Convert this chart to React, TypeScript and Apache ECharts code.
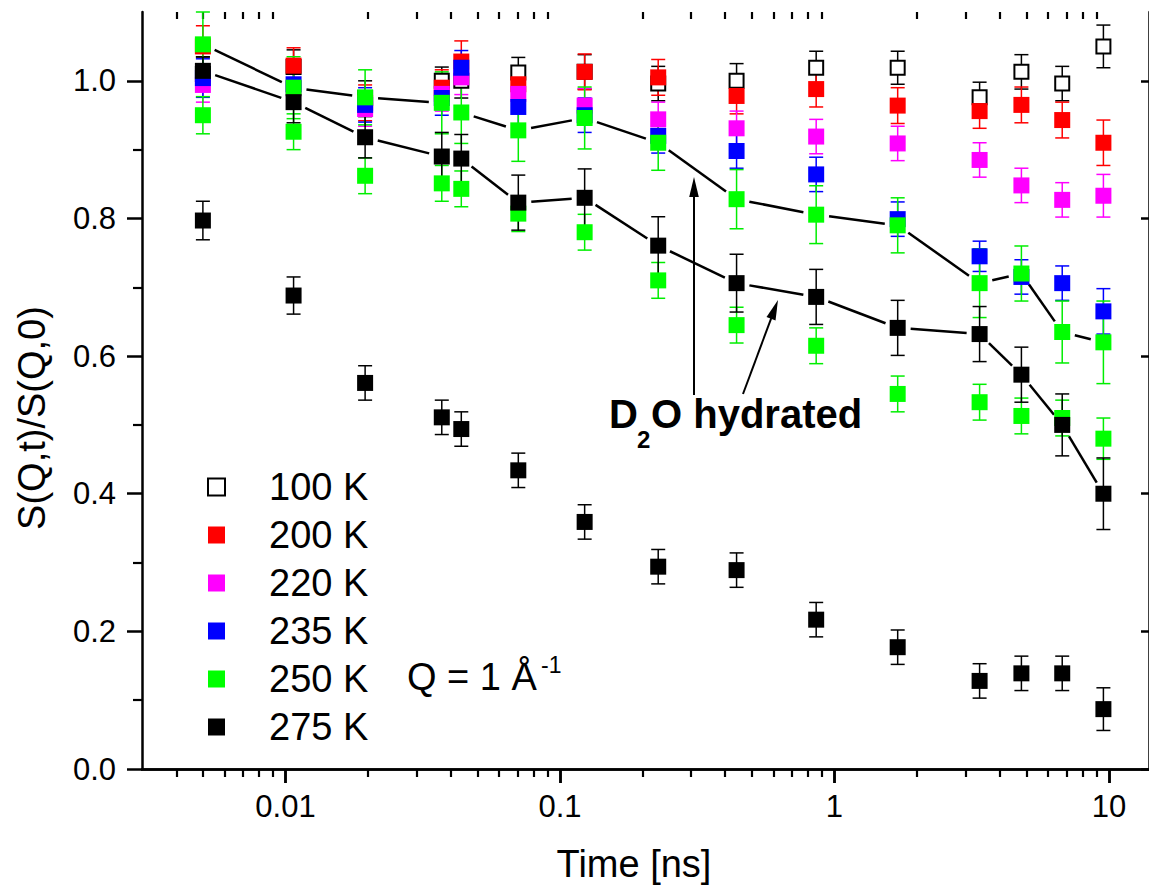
import React, { useEffect, useRef } from 'react';
import * as echarts from 'echarts';

const FONT = '"Liberation Sans", Arial, Helvetica, sans-serif';

// Time values (ns)
const TIMES = [0.005, 0.0107, 0.0195, 0.0371, 0.0437, 0.0705, 0.123, 0.228, 0.44, 0.858, 1.7, 3.38, 4.8, 6.76, 9.55];

// S(Q,t)/S(Q,0) values and errors
const S100 = [1.01, 1.02, 0.975, 1.0, 1.0, 1.012, 1.013, 0.996, 1.0, 1.019, 1.019, 0.976, 1.013, 0.996, 1.05];
const E100 = [0.025, 0.025, 0.025, 0.02, 0.025, 0.022, 0.025, 0.025, 0.025, 0.024, 0.024, 0.022, 0.025, 0.025, 0.031];

const S200 = [1.05, 1.022, 0.968, 0.99, 1.028, 0.995, 1.013, 1.005, 0.978, 0.988, 0.964, 0.956, 0.965, 0.943, 0.91];
const E200 = [0.03, 0.026, 0.026, 0.026, 0.03, 0.026, 0.026, 0.026, 0.026, 0.026, 0.026, 0.025, 0.026, 0.026, 0.033];

const S220 = [0.994, 0.989, 0.959, 0.981, 1.005, 0.981, 0.964, 0.944, 0.931, 0.919, 0.909, 0.885, 0.848, 0.827, 0.833];
const E220 = [0.025, 0.025, 0.025, 0.025, 0.025, 0.025, 0.025, 0.025, 0.025, 0.025, 0.025, 0.025, 0.025, 0.025, 0.031];

const S235 = [1.004, 0.995, 0.965, 0.975, 1.019, 0.962, 0.95, 0.92, 0.898, 0.864, 0.799, 0.745, 0.715, 0.706, 0.665];
const E235 = [0.028, 0.028, 0.025, 0.025, 0.025, 0.025, 0.025, 0.025, 0.025, 0.025, 0.025, 0.022, 0.025, 0.025, 0.033];

// D2O hydrated (connected by lines)
const S250H = [1.053, 0.99, 0.976, 0.968, 0.954, 0.928, 0.946, 0.91, 0.828, 0.8055, 0.79, 0.706, 0.72, 0.635, 0.62];
const E250H = [0.047, 0.045, 0.04, 0.045, 0.045, 0.045, 0.045, 0.04, 0.043, 0.042, 0.04, 0.05, 0.04, 0.045, 0.06];

const S275H = [1.0145, 0.969, 0.918, 0.89, 0.887, 0.823, 0.83, 0.7605, 0.706, 0.686, 0.641, 0.632, 0.573, 0.5, 0.4];
const E275H = [0.02, 0.03, 0.03, 0.035, 0.035, 0.04, 0.042, 0.042, 0.042, 0.04, 0.04, 0.04, 0.04, 0.045, 0.052];

// second set (not connected)
const S250 = [0.95, 0.926, 0.862, 0.851, 0.843, 0.807, 0.78, 0.71, 0.645, 0.615, 0.545, 0.533, 0.513, 0.51, 0.48];
const E250 = [0.027, 0.026, 0.026, 0.026, 0.026, 0.026, 0.026, 0.026, 0.026, 0.026, 0.026, 0.026, 0.026, 0.026, 0.03];

const S275 = [0.797, 0.688, 0.561, 0.511, 0.494, 0.434, 0.359, 0.294, 0.289, 0.217, 0.177, 0.128, 0.139, 0.139, 0.087];
const E275 = [0.028, 0.027, 0.025, 0.025, 0.025, 0.025, 0.025, 0.025, 0.025, 0.025, 0.025, 0.025, 0.025, 0.025, 0.031];

const LEGEND_NAMES = ['100 K', '200 K', '220 K', '235 K', '250 K', '275 K'];

// Axis ticks
const X_MIN = 0.003;
const X_MAX = 14;
const X_MAJOR = [0.01, 0.1, 1, 10];
const X_MINOR = [
  0.004, 0.005, 0.006, 0.007, 0.008, 0.009,
  0.02, 0.03, 0.04, 0.05, 0.06, 0.07, 0.08, 0.09,
  0.2, 0.3, 0.4, 0.5, 0.6, 0.7, 0.8, 0.9,
  2, 3, 4, 5, 6, 7, 8, 9,
];
const Y_MAJOR = [0, 0.2, 0.4, 0.6, 0.8, 1.0];
const Y_MINOR = [0.1, 0.3, 0.5, 0.7, 0.9];

function errSeries(name: string, ys: number[], es: number[], color: string) {
  return {
    type: 'custom',
    name: name + ' err',
    xAxisIndex: 0,
    yAxisIndex: 0,
    silent: true,
    data: TIMES.map((t, i) => [t, ys[i] - es[i], ys[i] + es[i]]),
    encode: { x: 0, y: [1, 2] },
    renderItem: (params: any, api: any) => {
      const x = api.value(0);
      const lo = api.coord([x, api.value(1)]);
      const hi = api.coord([x, api.value(2)]);
      const w = 7;
      const st = { stroke: color, lineWidth: 1.5 };
      return {
        type: 'group',
        children: [
          { type: 'line', shape: { x1: lo[0], y1: lo[1], x2: hi[0], y2: hi[1] }, style: st },
          { type: 'line', shape: { x1: lo[0] - w, y1: lo[1], x2: lo[0] + w, y2: lo[1] }, style: st },
          { type: 'line', shape: { x1: hi[0] - w, y1: hi[1], x2: hi[0] + w, y2: hi[1] }, style: st },
        ],
      };
    },
  };
}

function pointSeries(name: string, ys: number[], color: string, hollow = false) {
  return {
    type: 'scatter',
    name,
    xAxisIndex: 0,
    yAxisIndex: 0,
    symbol: 'rect',
    symbolSize: hollow ? 14 : 16,
    silent: true,
    itemStyle: hollow
      ? { color: '#ffffff', borderColor: '#000000', borderWidth: 2, opacity: 1 }
      : { color, opacity: 1 },
    data: TIMES.map((t, i) => [t, ys[i]]),
  };
}

function segSeries(name: string, ys: number[]) {
  const data: number[][] = [];
  for (let i = 0; i < TIMES.length - 1; i++) {
    data.push([TIMES[i], ys[i], TIMES[i + 1], ys[i + 1]]);
  }
  return {
    type: 'custom',
    name,
    xAxisIndex: 0,
    yAxisIndex: 0,
    silent: true,
    data,
    encode: { x: [0, 2], y: [1, 3] },
    renderItem: (params: any, api: any) => {
      const a = api.coord([api.value(0), api.value(1)]);
      const b = api.coord([api.value(2), api.value(3)]);
      const dx = b[0] - a[0];
      const dy = b[1] - a[1];
      const L = Math.hypot(dx, dy);
      const g = 13;
      if (L <= 2 * g) return null;
      const ux = dx / L;
      const uy = dy / L;
      return {
        type: 'line',
        shape: { x1: a[0] + ux * g, y1: a[1] + uy * g, x2: b[0] - ux * g, y2: b[1] - uy * g },
        style: { stroke: '#000', lineWidth: 2.5 },
      };
    },
  };
}

function arrow(x1: number, y1: number, x2: number, y2: number) {
  const dx = x2 - x1;
  const dy = y2 - y1;
  const L = Math.hypot(dx, dy);
  const ux = dx / L;
  const uy = dy / L;
  const hl = 20;
  const hw = 4.8;
  const bx = x2 - ux * hl;
  const by = y2 - uy * hl;
  const px = -uy;
  const py = ux;
  return [
    {
      type: 'line',
      shape: { x1, y1, x2: bx + ux * 2, y2: by + uy * 2 },
      style: { stroke: '#000', lineWidth: 2 },
    },
    {
      type: 'polygon',
      shape: { points: [[x2, y2], [bx + px * hw, by + py * hw], [bx - px * hw, by - py * hw]] },
      style: { fill: '#000' },
    },
  ];
}

const axisLineStyle = { color: '#000', width: 2.5 };

export default function App() {
  const ref = useRef<HTMLDivElement>(null);

  useEffect(() => {
    if (!ref.current) return;
    const chart = echarts.init(ref.current, undefined, { renderer: 'svg' });

    const xBase = {
      type: 'log',
      logBase: 10,
      min: X_MIN,
      max: X_MAX,
      gridIndex: 0,
      splitLine: { show: false },
      minorTick: { show: false },
      minorSplitLine: { show: false },
    };
    const yBase = {
      type: 'value',
      min: 0,
      max: 1.1,
      gridIndex: 0,
      splitLine: { show: false },
    };

    const option: any = {
      animation: false,
      backgroundColor: '#ffffff',
      grid: { left: 142, top: 12, right: -5, bottom: 119, containLabel: false },
      xAxis: [
        {
          ...xBase,
          position: 'bottom',
          axisLine: { show: true, lineStyle: axisLineStyle },
          axisTick: { show: true, inside: false, length: 14, lineStyle: { color: '#000', width: 2.5 }, customValues: X_MAJOR },
          axisLabel: {
            show: true,
            customValues: X_MAJOR,
            formatter: (v: number) => String(v),
            fontFamily: FONT,
            fontSize: 31,
            color: '#000',
            margin: 22,
          },
        },
        {
          ...xBase,
          position: 'bottom',
          axisLine: { show: false },
          axisTick: { show: true, inside: false, length: 8, lineStyle: { color: '#000', width: 2.2 }, customValues: X_MINOR },
          axisLabel: { show: false, customValues: X_MINOR },
        },
        {
          ...xBase,
          position: 'top',
          axisLine: { show: true, lineStyle: axisLineStyle },
          axisTick: { show: true, inside: true, length: 14, lineStyle: { color: '#000', width: 2.5 }, customValues: X_MAJOR },
          axisLabel: { show: false, customValues: X_MAJOR },
        },
        {
          ...xBase,
          position: 'top',
          axisLine: { show: false },
          axisTick: { show: true, inside: true, length: 7, lineStyle: { color: '#000', width: 2.2 }, customValues: X_MINOR },
          axisLabel: { show: false, customValues: X_MINOR },
        },
      ],
      yAxis: [
        {
          ...yBase,
          position: 'left',
          axisLine: { show: true, lineStyle: axisLineStyle },
          axisTick: { show: true, inside: false, length: 15, lineStyle: { color: '#000', width: 2.5 }, customValues: Y_MAJOR },
          axisLabel: {
            show: true,
            customValues: Y_MAJOR,
            formatter: (v: number) => v.toFixed(1),
            fontFamily: FONT,
            fontSize: 31,
            color: '#000',
            margin: 26,
          },
        },
        {
          ...yBase,
          position: 'left',
          axisLine: { show: false },
          axisTick: { show: true, inside: false, length: 9, lineStyle: { color: '#000', width: 2.2 }, customValues: Y_MINOR },
          axisLabel: { show: false, customValues: Y_MINOR },
        },
        {
          ...yBase,
          position: 'right',
          axisLine: { show: true, lineStyle: axisLineStyle },
          axisTick: { show: true, inside: true, length: 8, lineStyle: { color: '#000', width: 2.5 }, customValues: Y_MAJOR },
          axisLabel: { show: false, customValues: Y_MAJOR },
        },
      ],
      legend: {
        data: LEGEND_NAMES,
        orient: 'vertical',
        left: 207,
        top: 468,
        padding: 0,
        itemWidth: 17,
        itemHeight: 17,
        itemGap: 10,
        icon: 'rect',
        selectedMode: false,
        formatter: (name: string) => `{g|\u00a0}{t|${name}}`,
        textStyle: {
          color: '#000',
          fontFamily: FONT,
          fontSize: 38,
          rich: {
            g: { width: 39, fontSize: 38, lineHeight: 38 },
            t: { color: '#000', fontFamily: FONT, fontSize: 38, lineHeight: 38 },
          },
        },
      },
      series: [
        segSeries('250 K hydrated line', S250H),
        segSeries('275 K hydrated line', S275H),
        errSeries('100 K', S100, E100, '#000000'),
        pointSeries('100 K', S100, '#000000', true),
        errSeries('200 K', S200, E200, '#ff0000'),
        pointSeries('200 K', S200, '#ff0000'),
        errSeries('220 K', S220, E220, '#ff00ff'),
        pointSeries('220 K', S220, '#ff00ff'),
        errSeries('235 K', S235, E235, '#0000ff'),
        pointSeries('235 K', S235, '#0000ff'),
        errSeries('250 K', S250, E250, '#00ee00'),
        pointSeries('250 K', S250, '#00ff00'),
        errSeries('250 K hydrated', S250H, E250H, '#00ee00'),
        pointSeries('250 K', S250H, '#00ff00'),
        errSeries('275 K', S275, E275, '#000000'),
        pointSeries('275 K', S275, '#000000'),
        errSeries('275 K hydrated', S275H, E275H, '#000000'),
        pointSeries('275 K', S275H, '#000000'),
      ],
      graphic: [
        {
          type: 'text',
          x: 634,
          y: 864,
          style: { text: 'Time [ns]', fontFamily: FONT, fontSize: 38, fill: '#000', align: 'center', verticalAlign: 'middle' },
        },
        {
          type: 'text',
          x: 32,
          y: 418,
          rotation: Math.PI / 2,
          style: { text: 'S(Q,t)/S(Q,0)', fontFamily: FONT, fontSize: 38, fill: '#000', align: 'center', verticalAlign: 'middle' },
        },
        {
          type: 'text',
          x: 407,
          y: 677,
          style: { text: 'Q = 1 Å', fontFamily: FONT, fontSize: 38, fill: '#000', align: 'left', verticalAlign: 'middle' },
        },
        {
          type: 'text',
          x: 541,
          y: 665,
          style: { text: '-1', fontFamily: FONT, fontSize: 23, fill: '#000', align: 'left', verticalAlign: 'middle' },
        },
        {
          type: 'text',
          x: 609,
          y: 414,
          style: { text: 'D', fontFamily: FONT, fontSize: 40, fontWeight: 'bold', fill: '#000', align: 'left', verticalAlign: 'middle' },
        },
        {
          type: 'text',
          x: 637,
          y: 439,
          style: { text: '2', fontFamily: FONT, fontSize: 24, fontWeight: 'bold', fill: '#000', align: 'left', verticalAlign: 'middle' },
        },
        {
          type: 'text',
          x: 651,
          y: 414,
          style: { text: 'O hydrated', fontFamily: FONT, fontSize: 40, fontWeight: 'bold', fill: '#000', align: 'left', verticalAlign: 'middle' },
        },
        ...arrow(694, 395, 694, 177),
        ...arrow(743, 394, 778, 300),
      ],
    };

    chart.setOption(option);
    return () => {
      chart.dispose();
    };
  }, []);

  return (
    <div
      ref={ref}
      style={{ position: 'absolute', left: 0, top: 0, width: 1149, height: 888, background: '#fff' }}
    />
  );
}
